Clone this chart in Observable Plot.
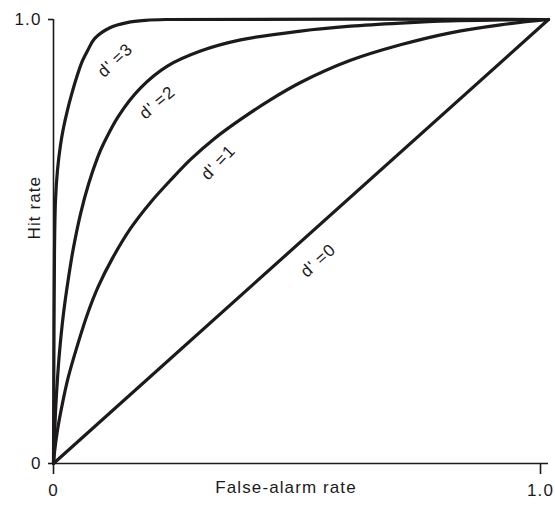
<!DOCTYPE html>
<html><head><meta charset="utf-8">
<script src="https://cdn.jsdelivr.net/npm/d3@7"></script>
<script src="https://cdn.jsdelivr.net/npm/@observablehq/plot@0.6"></script>
<style>
body{margin:0;background:#fff;}
#chart svg{display:block;}
#chart text{letter-spacing:1.1px;}
</style>
</head><body><div id="chart"></div>
<script>
// Hit rate vs false-alarm rate
const d0F = [0, 1];
const d0H = [0, 1];
const d1F = [0, 0.002, 0.008, 0.018, 0.030, 0.048, 0.069, 0.091, 0.119, 0.156, 0.196, 0.238, 0.277, 0.323, 0.378, 0.438, 0.499, 0.600, 0.701, 0.802, 0.903, 1];
const d1H = [0, 0.025, 0.075, 0.135, 0.195, 0.265, 0.338, 0.400, 0.462, 0.530, 0.588, 0.640, 0.685, 0.730, 0.775, 0.819, 0.858, 0.908, 0.943, 0.970, 0.988, 1];
const d2F = [0, 0.004, 0.008, 0.012, 0.020, 0.030, 0.040, 0.055, 0.071, 0.089, 0.101, 0.131, 0.176, 0.230, 0.297, 0.378, 0.499, 0.600, 0.701, 0.802, 0.903, 1];
const d2H = [0, 0.115, 0.190, 0.249, 0.336, 0.416, 0.484, 0.564, 0.630, 0.689, 0.720, 0.782, 0.846, 0.895, 0.929, 0.954, 0.974, 0.985, 0.992, 0.997, 0.999, 1];
const d3F = [0, 0.001, 0.002, 0.004, 0.008, 0.014, 0.020, 0.028, 0.036, 0.046, 0.057, 0.069, 0.083, 0.115, 0.149, 0.186, 0.226, 1];
const d3H = [0, 0.30, 0.48, 0.592, 0.66, 0.716, 0.755, 0.795, 0.829, 0.867, 0.903, 0.930, 0.957, 0.982, 0.993, 0.998, 1, 1];

const labelText = ["d'\u2009=3", "d'\u2009=2", "d'\u2009=1", "d'\u2009=0"];
const labelF = [0.125, 0.210, 0.333, 0.535];
const labelH = [0.908, 0.813, 0.678, 0.457];
const labelAngle = [-43, -40, -46, -42];

const xTickText = ["0", "1.0"];
const yTicks = [0, 1];
const yTickText = ["0", "1.0"];
const xTitle = "False-alarm rate";
const yTitle = "Hit rate";

const series = [
  ["3", d3F, d3H], ["2", d2F, d2H], ["1", d1F, d1H], ["0", d0F, d0H]
];
const rows = series.flatMap(([d, F, H]) => F.map((f, i) => ({d, F: f, H: H[i]})));
const labels = labelText.map((t, i) => ({t, F: labelF[i], H: labelH[i], a: labelAngle[i]}));

const ink = "#1c1a1a";
const font = "'Liberation Sans', Arial, Helvetica, sans-serif";
const fs = 17;

const chart = Plot.plot({
  width: 555,
  height: 509,
  marginLeft: 53,
  marginRight: 7,
  marginTop: 19,
  marginBottom: 46,
  style: {fontFamily: font, fontSize: fs + "px", color: ink, background: "#fff"},
  x: {domain: [0, 1]},
  y: {domain: [0, 1]},
  marks: [
    Plot.ruleY([0], {stroke: ink, strokeWidth: 1.6}),
    Plot.ruleX([0], {stroke: ink, strokeWidth: 1.6}),
    Plot.axisX([0], {tickSize: 11, tickPadding: 9, tickFormat: () => xTickText[0], label: null, stroke: ink, strokeWidth: 1.6, fontSize: fs}),
    Plot.axisX([1], {tickSize: 11, tickPadding: 9, tickFormat: () => xTickText[1], label: null, stroke: ink, strokeWidth: 1.6, fontSize: fs, dx: -8}),
    Plot.axisY(yTicks, {tickSize: 5, tickPadding: 7, tickFormat: (d) => yTickText[yTicks.indexOf(d)], label: null, stroke: ink, strokeWidth: 1.6, fontSize: fs}),
    Plot.text([xTitle], {frameAnchor: "bottom", dy: 29, dx: -15, fontSize: fs, fill: ink}),
    Plot.text([yTitle], {frameAnchor: "left", dx: -19, dy: -2, rotate: -90, fontSize: fs, fill: ink}),
    Plot.line(rows, {x: "F", y: "H", z: "d", stroke: ink, strokeWidth: 3.2, curve: "catmull-rom"}),
    Plot.text(labels, {x: "F", y: "H", text: "t", rotate: "a", fontSize: fs, fill: ink})
  ]
});
document.getElementById("chart").append(chart);
</script>
</body></html>
